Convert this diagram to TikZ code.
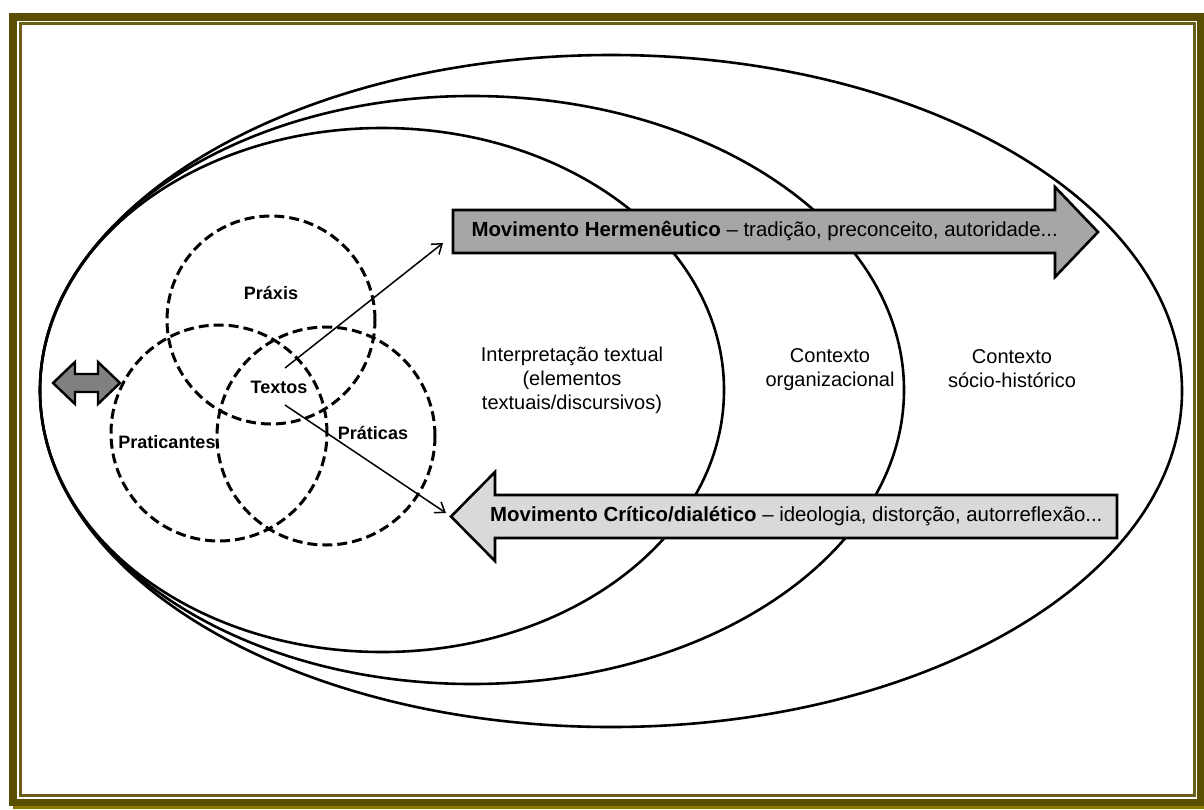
\documentclass[tikz,border=0pt]{standalone}
\usepackage{fontspec}
\setmainfont{Liberation Sans}
\usetikzlibrary{arrows.meta,positioning}
\definecolor{frameOlive}{RGB}{90,78,0}
\definecolor{frameInner}{RGB}{105,95,25}
\definecolor{frameShadow}{RGB}{140,120,0}
\definecolor{hermGray}{RGB}{166,166,166}
\definecolor{critGray}{RGB}{217,217,217}
\definecolor{swapGray}{RGB}{128,128,128}
\tikzset{
     ellipseLine/.style =
        { draw
        , line width=2.6pt
        },
     dashCircle/.style =
        { draw
        , line width=3pt
        , dash pattern=on 10pt off 5pt
        },
     circleLabel/.style =
        { font=\fontsize{18}{20}\selectfont\bfseries
        , inner sep=0pt
        },
     zoneLabel/.style =
        { align=center
        , font=\fontsize{20}{24}\selectfont
        , inner sep=0pt
        },
     bigArrow/.style =
        { draw
        , line width=2.6pt
        , line join=miter
        },
     thinArrow/.style =
        { line width=1.5pt
        , -{Straight Barb[length=9pt,width=13pt]}
        }
}

\begin{document}
\begin{tikzpicture}[x=1pt, y=-1pt]
            \useasboundingbox (0,0) rectangle (1204,809);
            % frame
            \draw[frameShadow, line width=3pt] (13,807.5) -- (1204,807.5);
            \draw[frameOlive, line width=7.4pt] (13,17) rectangle (1200.3,802.5);
            \draw[frameInner, line width=3pt] (20.5,23.5) rectangle (1194.3,795.5);

            % context ellipses
            \draw[ellipseLine] (611,391) ellipse [x radius=571pt, y radius=336pt];
            \draw[ellipseLine] (472,390) ellipse [x radius=432pt, y radius=294pt];
            \draw[ellipseLine] (382,390) ellipse [x radius=342pt, y radius=262pt];

            % dashed circles
            \draw[dashCircle] (271,320) circle [radius=104pt];
            \draw[dashCircle] (219,433) circle [radius=108pt];
            \draw[dashCircle] (326,436) circle [radius=109pt];

            \node[circleLabel] (praxis) at (271,293) {Práxis};
            \node[circleLabel] (txt) at (279,387) {Textos};
            \node[circleLabel] (praticantes) at (167,442) {Praticantes};
            \node[circleLabel] (praticas) at (373,433) {Práticas};

            % zone texts
            \node[zoneLabel] (interp) at (572,380) {Interpretação textual\\(elementos\\textuais/discursivos)};
            \node[zoneLabel] (orgCtx) at (830,370) {Contexto\\organizacional};
            \node[zoneLabel] (socCtx) at (1012,369) {Contexto\\sócio-histórico};

            % movement arrows
            \draw[bigArrow, fill=hermGray] (453,210) -- (1055,210) -- (1055,187) -- (1098,232)
                -- (1055,277) -- (1055,253) -- (453,253) -- cycle;
            \draw[bigArrow, fill=critGray] (1117,495) -- (495,495) -- (495,472) -- (451,516.5)
                -- (495,561) -- (495,538) -- (1117,538) -- cycle;
            \node[anchor=west, font=\fontsize{20.4}{24}\selectfont] (herm) at (468,231.5)
                {\textbf{Movimento Hermenêutico} – tradição, preconceito, autoridade...};
            \node[anchor=east, font=\fontsize{20.4}{24}\selectfont] (crit) at (1106,516.5)
                {\textbf{Movimento Crítico/dialético} – ideologia, distorção, autorreflexão...};

            % swap arrow
            \draw[bigArrow, line width=2.4pt, fill=swapGray] (53,383) -- (75,362) -- (75,374)
                -- (98,374) -- (98,362) -- (120,383) -- (98,404) -- (98,392)
                -- (75,392) -- (75,404) -- cycle;

            % links from Textos
            \coordinate (hermTail) at (443,243);
            \coordinate (critTip) at (446,513);
            \draw[thinArrow] ([shift={(6,-19)}]txt.center) -- (hermTail);
            \draw[thinArrow] ([shift={(6,18)}]txt.center) -- (critTip);
\end{tikzpicture}
\end{document}
